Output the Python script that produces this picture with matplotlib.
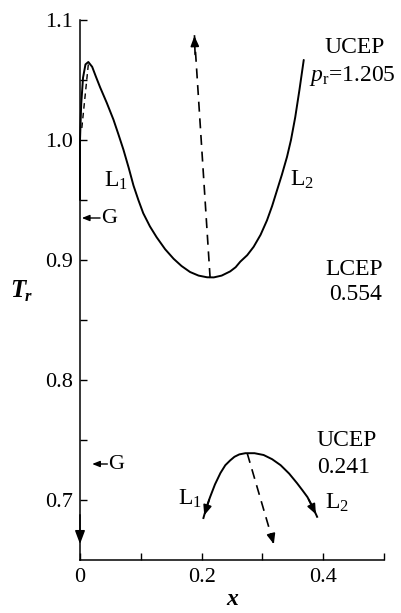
import matplotlib
matplotlib.use("Agg")
import matplotlib.pyplot as plt
from matplotlib.ticker import FixedLocator, NullFormatter

plt.rcParams['font.family'] = ['Liberation Serif', 'DejaVu Serif']
plt.rcParams['mathtext.fontset'] = 'custom'
plt.rcParams['mathtext.rm'] = 'Liberation Serif'
plt.rcParams['mathtext.it'] = 'Liberation Serif:italic'
plt.rcParams['mathtext.bf'] = 'Liberation Serif:bold'

# ---- data ----
# upper three-phase curve (L1 -> L2), p_r = 1.205
upper_x = [0.0, 0.0, 0.002, 0.005, 0.009, 0.0137, 0.02, 0.026, 0.033, 0.044, 0.055,
           0.063, 0.0714, 0.080, 0.088, 0.096, 0.104, 0.115, 0.126, 0.14, 0.154,
           0.167, 0.181, 0.195, 0.209, 0.22, 0.233, 0.247, 0.256, 0.2636, 0.275,
           0.2856, 0.297, 0.3075, 0.316, 0.324, 0.332, 0.3405, 0.347, 0.354,
           0.361, 0.368]
upper_T = [0.95, 1.0, 1.03, 1.052, 1.063, 1.065, 1.061, 1.053, 1.044, 1.031, 1.017,
           1.005, 0.992, 0.977, 0.962, 0.950, 0.939, 0.928, 0.919, 0.909, 0.901,
           0.895, 0.890, 0.887, 0.8856, 0.8855, 0.887, 0.8905, 0.894, 0.8986, 0.904,
           0.911, 0.921, 0.933, 0.945, 0.958, 0.971, 0.986, 1.0, 1.019,
           1.042, 1.0667]
# small dashed line near the maximum
peak_dash_x = [0.003, 0.0137]
peak_dash_T = [1.01, 1.063]
# dashed arrow from the minimum (LCEP direction)
upper_arrow_x = [0.214, 0.188]
upper_arrow_T = [0.885, 1.089]

# lower curve, UCEP 0.241
lower_x = [0.203, 0.208, 0.214, 0.222, 0.231, 0.239, 0.247, 0.254, 0.262, 0.272,
           0.287, 0.302, 0.316, 0.33, 0.344, 0.357, 0.366, 0.374, 0.382, 0.39]
lower_T = [0.685, 0.694, 0.7025, 0.713, 0.7225, 0.729, 0.733, 0.736, 0.738, 0.739,
           0.739, 0.7375, 0.734, 0.729, 0.722, 0.714, 0.708, 0.7025, 0.695, 0.686]
lower_arrow_x = [0.275, 0.32]
lower_arrow_T = [0.739, 0.661]

# G markers on the T axis
g_T = [0.935, 0.73]
g_tail_x = [0.033, 0.045]
g_head_x = [0.003, 0.02]

y_major = [0.7, 0.8, 0.9, 1.0, 1.1]
y_minor = [0.75, 0.85, 0.95, 1.05]
x_major = [0.0, 0.2, 0.4]
x_labels = ['0', '0.2', '0.4']
x_minor = [0.1, 0.3, 0.5]

# ---- figure ----
W, H = 401, 613
fig = plt.figure(figsize=(W / 100, H / 100), dpi=100)
ax = fig.add_axes([80 / W, (H - 560) / H, 304 / W, 540 / H])
ax.set_xlim(0, 0.5)
ax.set_ylim(0.65, 1.1)

for s in ['top', 'right']:
    ax.spines[s].set_visible(False)
for s in ['left', 'bottom']:
    ax.spines[s].set_linewidth(1.1)

ax.yaxis.set_major_locator(FixedLocator(y_major))
ax.yaxis.set_minor_locator(FixedLocator(y_minor))
ax.set_yticklabels([f'{v:.1f}' for v in y_major])
ax.xaxis.set_major_locator(FixedLocator(x_major))
ax.xaxis.set_minor_locator(FixedLocator(x_minor))
ax.set_xticklabels(x_labels)
ax.yaxis.set_minor_formatter(NullFormatter())
ax.xaxis.set_minor_formatter(NullFormatter())
ax.tick_params(axis='both', which='both', direction='in', length=5, width=1.0,
               labelsize=16)
ax.tick_params(axis='y', which='major', pad=5)
ax.tick_params(axis='x', which='major', pad=6)

lw = 1.4
ax.plot(upper_x, upper_T, color='black', lw=lw, clip_on=False,
        solid_joinstyle='round', solid_capstyle='round')
ax.plot(peak_dash_x, peak_dash_T, color='black', lw=1.0, ls=(0, (4, 3)))
ax.plot(upper_arrow_x, upper_arrow_T, color='black', lw=1.2, ls=(0, (6, 4)))
head = '-|>,head_length=0.6,head_width=0.25'
ax.annotate('', xy=(upper_arrow_x[1], upper_arrow_T[1]),
            xytext=(upper_arrow_x[1] + 0.0015, upper_arrow_T[1] - 0.02),
            arrowprops=dict(arrowstyle=head, color='black', lw=1.2))

ax.plot(lower_x, lower_T, color='black', lw=lw, solid_joinstyle='round')
ax.plot(lower_arrow_x, lower_arrow_T, color='black', lw=1.2, ls=(0, (6, 4)))
ax.annotate('', xy=(lower_arrow_x[1], lower_arrow_T[1]),
            xytext=(lower_arrow_x[1] - 0.006, lower_arrow_T[1] + 0.011),
            arrowprops=dict(arrowstyle=head, color='black', lw=1.2))
ax.annotate('', xy=(lower_x[0], lower_T[0]), xytext=(lower_x[2], lower_T[2]),
            arrowprops=dict(arrowstyle=head, color='black', lw=1.2))
ax.annotate('', xy=(lower_x[-1], lower_T[-1]), xytext=(lower_x[-3], lower_T[-3]),
            arrowprops=dict(arrowstyle=head, color='black', lw=1.2))

# downward arrow on the T axis (G branch)
ax.annotate('', xy=(0, 0.661), xytext=(0, 0.69),
            arrowprops=dict(arrowstyle='-|>,head_length=0.8,head_width=0.3',
                            color='black', lw=1.1), annotation_clip=False)

# G arrows
for tx, hx, t in zip(g_tail_x, g_head_x, g_T):
    ax.annotate('', xy=(hx, t), xytext=(tx, t),
                arrowprops=dict(arrowstyle='-|>,head_length=0.45,head_width=0.18',
                                color='black', lw=1.0, shrinkA=0, shrinkB=0))
    ax.text(tx + 0.002, t, 'G', fontsize=16, va='center', ha='left')

fs = 17
ax.text(0.451, 1.0767, 'UCEP', fontsize=fs, ha='center', va='center')
ax.text(0.448, 1.053, r'$p_{\mathrm{r}}$=1.205', fontsize=fs, ha='center', va='center')
ax.text(0.059, 0.966, r'L$_1$', fontsize=fs, ha='center', va='center')
ax.text(0.346, 0.967, r'L$_2$', fontsize=fs, ha='left', va='center')
ax.text(0.451, 0.8917, 'LCEP', fontsize=fs, ha='center', va='center')
ax.text(0.453, 0.871, '0.554', fontsize=fs, ha='center', va='center')
ax.text(0.438, 0.75, 'UCEP', fontsize=fs, ha='center', va='center')
ax.text(0.433, 0.727, '0.241', fontsize=fs, ha='center', va='center')
ax.text(0.422, 0.698, r'L$_2$', fontsize=fs, ha='center', va='center')
ax.text(0.181, 0.701, r'L$_1$', fontsize=fs, ha='center', va='center')

# axis labels
ax.text(-0.205, 0.875, 'T', fontsize=18, fontstyle='italic', fontweight='bold',
        ha='center', va='center', transform=ax.get_yaxis_transform())
ax.text(-0.17, 0.869, 'r', fontsize=12, fontstyle='italic', fontweight='bold',
        ha='center', va='center', transform=ax.get_yaxis_transform())
ax.text(0.25, -0.074, 'x', fontsize=17, fontstyle='italic', fontweight='bold',
        ha='center', va='center', transform=ax.get_xaxis_transform())

fig.savefig('out.png', dpi=100)
